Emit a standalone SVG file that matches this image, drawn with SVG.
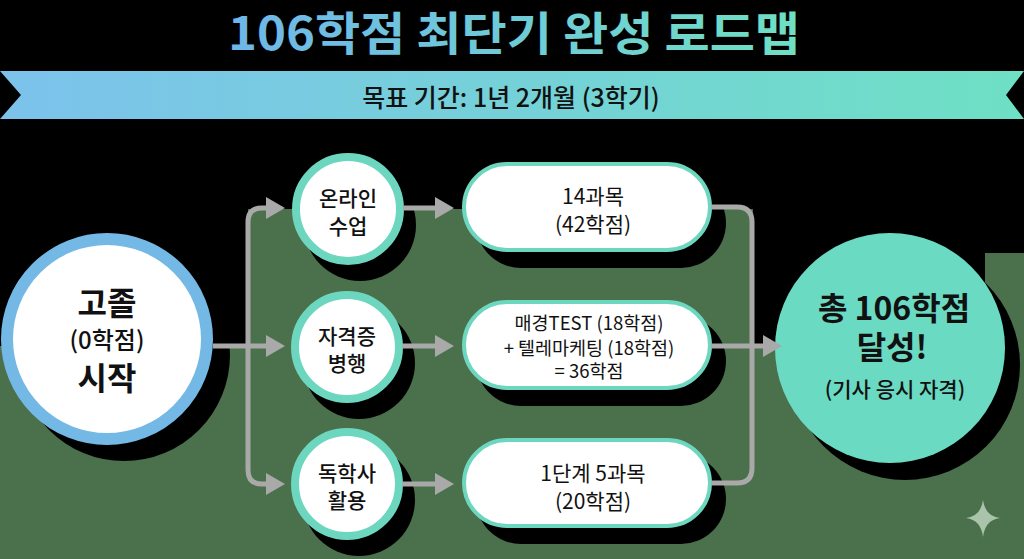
<svg xmlns="http://www.w3.org/2000/svg" width="1024" height="559" viewBox="0 0 1024 559">
  <defs>
    <linearGradient id="titleGrad" x1="0" y1="0" x2="1" y2="0">
      <stop offset="0" stop-color="#6fb6ea"/>
      <stop offset="1" stop-color="#6fe0c3"/>
    </linearGradient>
    <linearGradient id="bannerGrad" x1="0" y1="0" x2="1" y2="0">
      <stop offset="0" stop-color="#7cc2ec"/>
      <stop offset="1" stop-color="#6ee0c4"/>
    </linearGradient>
    <marker id="arrow" markerUnits="userSpaceOnUse" markerWidth="20" markerHeight="24" refX="8" refY="12" orient="auto">
      <path d="M0,1 L19,12 L0,23 Z" fill="#a9a9a9"/>
    </marker>
    <style>
      text { font-family: "Noto Sans CJK KR", "Noto Sans", sans-serif; text-anchor: middle; dominant-baseline: central; fill: #111; }
      .shadow { fill: #000; }
      .ring { fill: #fff; stroke: #6dd6bf; stroke-width: 8; }
      .pill { fill: #fff; stroke: #6dd6bf; stroke-width: 4; }
      .conn { fill: none; stroke: #a9a9a9; stroke-width: 5; }
      .lbl { font-size: 21px; font-weight: 500; }
      .pl { font-size: 21px; font-weight: 400; }
      .pm { font-size: 18.5px; font-weight: 400; }
    </style>
  </defs>

  <!-- background -->
  <rect x="0" y="0" width="1024" height="559" fill="#000"/>
  <path d="M0,346 H248 V209 H753 V346 H985 V253 H1024 V559 H0 Z" fill="#4b704c"/>

  <!-- title -->
  <text x="514" y="30" font-size="46" font-weight="700" textLength="572" lengthAdjust="spacingAndGlyphs" fill="url(#titleGrad)" style="fill:url(#titleGrad)">106학점 최단기 완성 로드맵</text>

  <!-- banner -->
  <g id="banner">
    <path d="M0,71 H1024 L1006,95 L1024,119 H0 L21,95 Z" fill="url(#bannerGrad)"/>
    <text x="511" y="96" font-size="25" font-weight="500">목표 기간: 1년 2개월 (3학기)</text>
  </g>

  <!-- start node -->
  <g id="start">
    <circle class="shadow" cx="124" cy="355" r="106"/>
    <circle cx="107" cy="339" r="100" fill="#fff" stroke="#74b8e6" stroke-width="12"/>
    <text x="107" y="301" font-size="32" font-weight="700">고졸</text>
    <text x="107" y="338" font-size="24" font-weight="500">(0학점)</text>
    <text x="107" y="376" font-size="32" font-weight="700">시작</text>
  </g>

  <!-- method circles -->
  <g id="online">
    <circle class="shadow" cx="360" cy="225" r="56"/>
    <circle class="ring" cx="348" cy="209" r="52"/>
    <text class="lbl" x="348" y="197">온라인</text>
    <text class="lbl" x="348" y="225">수업</text>
  </g>
  <g id="cert">
    <circle class="shadow" cx="359" cy="363" r="56"/>
    <circle class="ring" cx="347" cy="347" r="52"/>
    <text class="lbl" x="347" y="335">자격증</text>
    <text class="lbl" x="347" y="362">병행</text>
  </g>
  <g id="selfstudy">
    <circle class="shadow" cx="359" cy="500" r="56"/>
    <circle class="ring" cx="347" cy="484" r="52"/>
    <text class="lbl" x="347" y="472">독학사</text>
    <text class="lbl" x="347" y="499">활용</text>
  </g>

  <!-- result pills -->
  <g id="pill-online">
    <rect class="shadow" x="476" y="178" width="250" height="90" rx="45"/>
    <rect class="pill" x="464" y="164" width="246" height="86" rx="43"/>
    <text class="pl" x="593" y="195">14과목</text>
    <text class="pl" x="593" y="223">(42학점)</text>
  </g>
  <g id="pill-cert">
    <rect class="shadow" x="476" y="316" width="250" height="90" rx="45"/>
    <rect class="pill" x="464" y="302" width="246" height="86" rx="43"/>
    <text class="pm" x="589" y="322">매경TEST (18학점)</text>
    <text class="pm" x="589" y="347">+ 텔레마케팅 (18학점)</text>
    <text class="pm" x="589" y="370">= 36학점</text>
  </g>
  <g id="pill-self">
    <rect class="shadow" x="476" y="454" width="250" height="90" rx="45"/>
    <rect class="pill" x="464" y="440" width="246" height="86" rx="43"/>
    <text class="pl" x="593" y="472">1단계 5과목</text>
    <text class="pl" x="593" y="500">(20학점)</text>
  </g>

  <!-- goal -->
  <g id="goal">
    <circle class="shadow" cx="905" cy="365" r="115"/>
    <circle cx="890" cy="348" r="115" fill="#6bdac3"/>
    <text x="894" y="306" font-size="32" font-weight="600">총 106학점</text>
    <text x="892" y="345" font-size="32" font-weight="600">달성!</text>
    <text x="895" y="388" font-size="21" font-weight="500">(기사 응시 자격)</text>
  </g>

  <!-- connectors -->
  <g id="connectors">
    <path class="conn" d="M213,346 H274" marker-end="url(#arrow)"/>
    <path class="conn" d="M248,346 V222 Q248,208 262,208 H274" marker-end="url(#arrow)"/>
    <path class="conn" d="M248,346 V470 Q248,484 262,484 H274" marker-end="url(#arrow)"/>
    <path class="conn" d="M403,208 H443" marker-end="url(#arrow)"/>
    <path class="conn" d="M402,346 H443" marker-end="url(#arrow)"/>
    <path class="conn" d="M402,484 H443" marker-end="url(#arrow)"/>
    <path class="conn" d="M711,207 H737 Q752,207 752,222 V468 Q752,483 737,483 H711"/>
    <path class="conn" d="M711,346 H771" marker-end="url(#arrow)"/>
  </g>

  <!-- sparkle -->
  <path d="M983,500 Q985,516 1000,518 Q985,520 983,537 Q981,520 966,518 Q981,516 983,500 Z" fill="#a9c4aa"/>
</svg>
